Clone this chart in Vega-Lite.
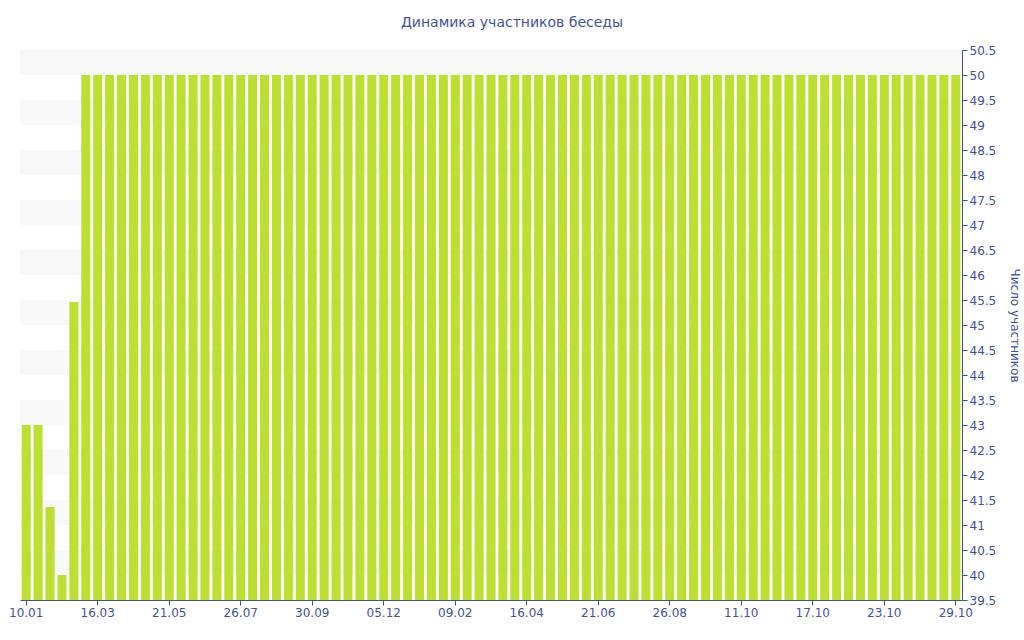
{
  "$schema": "https://vega.github.io/schema/vega-lite/v6.json",
  "width": 942,
  "height": 550,
  "autosize": {"type": "none"},
  "padding": {"left": 20, "top": 50, "right": 62, "bottom": 40},
  "background": "white",
  "config": {
    "view": {"stroke": null},
    "font": "DejaVu Sans",
    "axis": {
      "labelColor": "#3f51a2",
      "labelFontSize": 12,
      "labelFont": "DejaVu Sans",
      "domainColor": "#3f51a2",
      "tickColor": "#3f51a2",
      "titleColor": "#3f51a2",
      "titleFont": "DejaVu Sans",
      "titleFontSize": 12,
      "titleFontWeight": "normal"
    }
  },
  "title": {
    "text": "Динамика участников беседы",
    "fontSize": 14,
    "fontWeight": "normal",
    "color": "#3f51a2",
    "font": "DejaVu Sans",
    "anchor": "middle",
    "dx": 21,
    "offset": 14
  },
  "datasets": {
    "bands": [
      {"lo": 50, "hi": 50.5}, {"lo": 49, "hi": 49.5}, {"lo": 48, "hi": 48.5},
      {"lo": 47, "hi": 47.5}, {"lo": 46, "hi": 46.5}, {"lo": 45, "hi": 45.5},
      {"lo": 44, "hi": 44.5}, {"lo": 43, "hi": 43.5}, {"lo": 42, "hi": 42.5},
      {"lo": 41, "hi": 41.5}, {"lo": 40, "hi": 40.5}
    ],
    "bars": [
      {"date": "10.01.18", "n": 43}, {"date": "21.01.18", "n": 43}, {"date": "01.02.18", "n": 41.36},
      {"date": "12.02.18", "n": 40}, {"date": "23.02.18", "n": 45.46}, {"date": "06.03.18", "n": 50},
      {"date": "16.03.18", "n": 50}, {"date": "27.03.18", "n": 50}, {"date": "07.04.18", "n": 50},
      {"date": "18.04.18", "n": 50}, {"date": "29.04.18", "n": 50}, {"date": "10.05.18", "n": 50},
      {"date": "21.05.18", "n": 50}, {"date": "01.06.18", "n": 50}, {"date": "12.06.18", "n": 50},
      {"date": "23.06.18", "n": 50}, {"date": "04.07.18", "n": 50}, {"date": "15.07.18", "n": 50},
      {"date": "26.07.18", "n": 50}, {"date": "06.08.18", "n": 50}, {"date": "17.08.18", "n": 50},
      {"date": "28.08.18", "n": 50}, {"date": "08.09.18", "n": 50}, {"date": "19.09.18", "n": 50},
      {"date": "30.09.18", "n": 50}, {"date": "11.10.18", "n": 50}, {"date": "22.10.18", "n": 50},
      {"date": "02.11.18", "n": 50}, {"date": "13.11.18", "n": 50}, {"date": "24.11.18", "n": 50},
      {"date": "05.12.18", "n": 50}, {"date": "16.12.18", "n": 50}, {"date": "27.12.18", "n": 50},
      {"date": "07.01.19", "n": 50}, {"date": "18.01.19", "n": 50}, {"date": "29.01.19", "n": 50},
      {"date": "09.02.19", "n": 50}, {"date": "20.02.19", "n": 50}, {"date": "03.03.19", "n": 50},
      {"date": "14.03.19", "n": 50}, {"date": "25.03.19", "n": 50}, {"date": "05.04.19", "n": 50},
      {"date": "16.04.19", "n": 50}, {"date": "27.04.19", "n": 50}, {"date": "08.05.19", "n": 50},
      {"date": "19.05.19", "n": 50}, {"date": "30.05.19", "n": 50}, {"date": "10.06.19", "n": 50},
      {"date": "21.06.19", "n": 50}, {"date": "02.07.19", "n": 50}, {"date": "13.07.19", "n": 50},
      {"date": "24.07.19", "n": 50}, {"date": "04.08.19", "n": 50}, {"date": "15.08.19", "n": 50},
      {"date": "26.08.19", "n": 50}, {"date": "03.09.19", "n": 50}, {"date": "11.09.19", "n": 50},
      {"date": "19.09.19", "n": 50}, {"date": "27.09.19", "n": 50}, {"date": "05.10.19", "n": 50},
      {"date": "11.10.19", "n": 50}, {"date": "12.10.19", "n": 50}, {"date": "13.10.19", "n": 50},
      {"date": "14.10.19", "n": 50}, {"date": "15.10.19", "n": 50}, {"date": "16.10.19", "n": 50},
      {"date": "17.10.19", "n": 50}, {"date": "18.10.19", "n": 50}, {"date": "19.10.19", "n": 50},
      {"date": "20.10.19", "n": 50}, {"date": "21.10.19", "n": 50}, {"date": "22.10.19", "n": 50},
      {"date": "23.10.19", "n": 50}, {"date": "24.10.19", "n": 50}, {"date": "25.10.19", "n": 50},
      {"date": "26.10.19", "n": 50}, {"date": "27.10.19", "n": 50}, {"date": "28.10.19", "n": 50},
      {"date": "29.10.19", "n": 50}
    ]
  },
  "layer": [
    {
      "data": {"name": "bands"},
      "mark": {"type": "rect", "color": "#f8f8f8"},
      "encoding": {
        "y": {
          "field": "lo", "type": "quantitative",
          "scale": {"domain": [39.5, 50.5], "nice": false, "zero": false},
          "axis": {
            "orient": "right",
            "title": "Число участников",
            "titlePadding": 12,
            "values": [39.5, 40, 40.5, 41, 41.5, 42, 42.5, 43, 43.5, 44, 44.5, 45, 45.5, 46, 46.5, 47, 47.5, 48, 48.5, 49, 49.5, 50, 50.5],
            "format": "~g",
            "labelPadding": 2,
            "tickSize": 5,
            "grid": false,
            "labelOverlap": false
          }
        },
        "y2": {"field": "hi"}
      }
    },
    {
      "data": {"name": "bars"},
      "mark": {"type": "bar", "color": "#bddf31", "clip": true},
      "encoding": {
        "x": {
          "field": "date", "type": "ordinal", "sort": null,
          "scale": {"paddingInner": 0.24, "paddingOuter": 0.14},
          "axis": {
            "title": null,
            "values": ["10.01.18", "16.03.18", "21.05.18", "26.07.18", "30.09.18", "05.12.18", "09.02.19", "16.04.19", "21.06.19", "26.08.19", "11.10.19", "17.10.19", "23.10.19", "29.10.19"],
            "labelExpr": "slice(datum.label, 0, 5)",
            "labelAngle": 0,
            "labelPadding": 2,
            "tickSize": 5,
            "grid": false
          }
        },
        "y": {
          "field": "n", "type": "quantitative",
          "scale": {"domain": [39.5, 50.5], "nice": false, "zero": false},
          "axis": {
            "orient": "right",
            "title": "Число участников",
            "titlePadding": 12,
            "values": [39.5, 40, 40.5, 41, 41.5, 42, 42.5, 43, 43.5, 44, 44.5, 45, 45.5, 46, 46.5, 47, 47.5, 48, 48.5, 49, 49.5, 50, 50.5],
            "format": "~g",
            "labelPadding": 2,
            "tickSize": 5,
            "grid": false,
            "labelOverlap": false
          }
        }
      }
    }
  ]
}
